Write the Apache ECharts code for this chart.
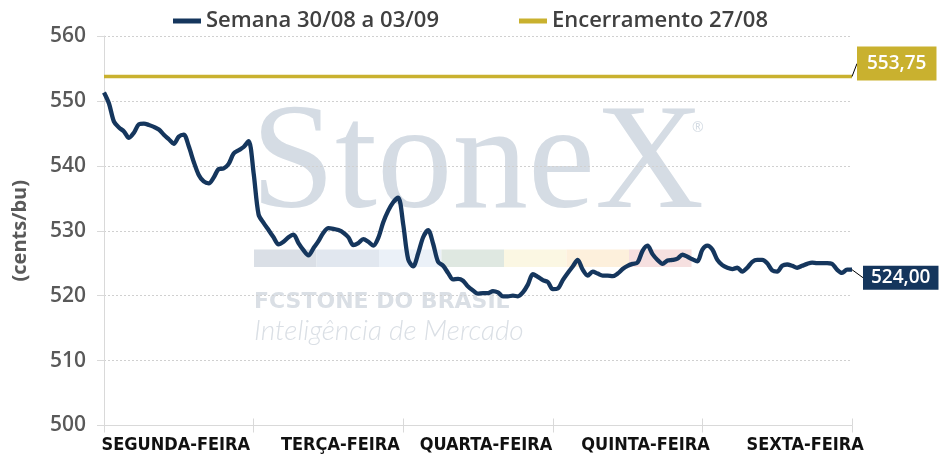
<!DOCTYPE html>
<html>
<head>
<meta charset="utf-8">
<script src="https://cdn.jsdelivr.net/npm/echarts@6/dist/echarts.min.js"></script>
<style>
  html, body { margin: 0; padding: 0; background: #fff; }
  #chart { width: 941px; height: 463px; }
</style>
</head>
<body>
<div id="chart"></div>
<script>
// dias da semana (eixo x)
const dias = ['SEGUNDA-FEIRA', 'TERÇA-FEIRA', 'QUARTA-FEIRA', 'QUINTA-FEIRA', 'SEXTA-FEIRA'];

// cotações intradiárias da semana 30/08 a 03/09 (cents/bu)
const precos = [
  551.3, 549.6, 546.8, 545.9, 545.3, 544.3, 545.1, 546.4, 546.5, 546.3,
  546.0, 545.6, 544.8, 544.1, 543.4, 544.5, 544.8, 543.0, 540.6, 538.6,
  537.6, 537.3, 538.2, 539.5, 539.6, 540.3, 541.9, 542.4, 542.9, 543.8,
  538.9, 532.5, 531.2, 530.1, 529.0, 527.9, 528.3, 529.0, 529.4, 528.1,
  527.0, 526.2, 527.3, 528.4, 529.7, 530.4, 530.3, 530.1, 529.7, 529.0,
  527.8, 528.1, 528.7, 528.3, 527.7, 528.9, 531.3, 533.1, 534.4, 535.1,
  531.0, 525.6, 524.5, 526.5, 529.0, 530.1, 528.0, 525.2, 524.6, 523.5,
  522.5, 522.6, 522.3, 521.4, 520.8, 520.3, 520.4, 520.4, 520.7, 520.5,
  519.9, 519.9, 520.0, 519.9, 520.5, 521.7, 523.3, 522.9, 522.4, 522.1,
  521.0, 521.1, 522.4, 523.5, 524.5, 525.5, 524.0, 523.1, 523.7, 523.4,
  523.1, 523.1, 523.0, 523.4, 524.1, 524.6, 524.9, 525.1, 526.9, 527.7,
  526.4, 525.5, 524.9, 525.4, 525.5, 525.7, 526.3, 526.0, 525.6, 525.3,
  527.1, 527.7, 527.1, 525.5, 524.7, 524.3, 524.1, 524.3, 523.7, 524.3,
  525.2, 525.5, 525.5, 525.0, 523.9, 523.7, 524.6, 524.8, 524.6, 524.3,
  524.6, 524.9, 525.1, 525.0, 525.0, 525.0, 524.9, 524.0, 523.5, 524.0,
  524.00
];

// fechamento de 27/08
const encerramento = 553.75;

// eixo y
const yMin = 500, yMax = 560, yStep = 10;

const serieSemana = 'Semana 30/08 a 03/09';
const serieEncerramento = 'Encerramento 27/08';

const horarios = precos.map((_, i) => String(i));
const navy = '#15365d';
const gold = '#c9b12f';
const cinza = '#595959';
const fonte = '"Open Sans", sans-serif';
const fonteDias = '"Liberation Sans Narrow", "DejaVu Sans Condensed", sans-serif';

// deslocamento horizontal (px) de cada rótulo de dia
const deslocDias = [-3, 12, 8, 18, 28];

const fmt = v => v.toFixed(2).replace('.', ',');
const ultimo = precos.length - 1;

const chart = echarts.init(document.getElementById('chart'));

// faixa colorida do logo (marca d'água)
const faixa = ['#dadfe6', '#e1e7ef', '#ebf1f8', '#dfe8e1', '#fbf7e3', '#fdf0dc', '#f6e0e0'];

const richDias = {};
deslocDias.forEach((s, i) => {
  richDias['d' + i] = {
    fontSize: 18, fontWeight: 'bold', color: '#111', fontFamily: fonteDias,
    padding: s >= 0 ? [0, 0, 0, 2 * s] : [0, -2 * s, 0, 0]
  };
});

const option = {
  animation: false,
  textStyle: { fontFamily: fonte },
  legend: {
    top: 5,
    left: 'center',
    itemWidth: 28,
    itemHeight: 5,
    itemGap: 80,
    icon: 'rect',
    textStyle: { fontSize: 22, fontWeight: 600, color: '#404040', fontFamily: fonte },
    data: [serieSemana, serieEncerramento]
  },
  graphic: [
    {
      type: 'text', z: -10, left: 251, top: 92,
      style: { text: 'StoneX', font: '151px "Liberation Serif"', fill: '#d5dce4' }
    },
    {
      type: 'text', z: -10, left: 692, top: 121,
      style: { text: '®', font: '14px "Open Sans"', fill: '#d5dce4' }
    },
    ...faixa.map((c, k) => ({
      type: 'rect', z: -10,
      shape: { x: 254 + 62.5 * k, y: 249.5, width: 62.5, height: 17.5 },
      style: { fill: c }
    })),
    {
      type: 'text', z: -10, left: 254, top: 291,
      style: { text: 'FCSTONE DO BRASIL', font: 'bold 22px "DejaVu Sans"', fill: '#dadfe5' }
    },
    {
      type: 'text', z: -10, left: 254, top: 317,
      style: { text: 'Inteligência de Mercado', font: 'italic 300 28px Lato', fill: '#dadfe5' }
    }
  ],
  grid: [
    { left: 104, right: 89, top: 36, bottom: 37.5 },
    { left: 104, right: 89, top: 36, bottom: 37.5 }
  ],
  xAxis: [
    {
      gridIndex: 0, type: 'category', data: dias, boundaryGap: true, position: 'bottom',
      axisLine: { lineStyle: { color: '#d9d9d9', width: 1 } },
      axisTick: { show: true, length: 7, lineStyle: { color: '#d9d9d9' } },
      axisLabel: {
        interval: 0, margin: 11, fontSize: 18, fontWeight: 'bold', color: '#111',
        fontFamily: fonteDias,
        formatter: (v, i) => '{d' + i + '|' + v + '}',
        rich: richDias
      },
      splitLine: { show: false }
    },
    {
      gridIndex: 0, type: 'category', data: horarios, boundaryGap: false, position: 'top',
      show: false
    },
    {
      gridIndex: 1, type: 'category', data: dias, boundaryGap: true, position: 'bottom',
      axisLine: { show: false },
      axisTick: { show: true, inside: true, length: 7, lineStyle: { color: '#d9d9d9' } },
      axisLabel: { show: false },
      splitLine: { show: false }
    }
  ],
  yAxis: [
    {
      gridIndex: 0, type: 'value', min: yMin, max: yMax, interval: yStep,
      name: '(cents/bu)', nameLocation: 'middle', nameGap: 74, nameRotate: 90,
      nameTextStyle: { fontSize: 20, fontWeight: 'bold', color: cinza, fontFamily: fonte },
      axisLine: { show: true, lineStyle: { color: '#d9d9d9' } },
      axisTick: { show: true, length: 7, lineStyle: { color: '#d9d9d9' } },
      axisLabel: { margin: 18, fontSize: 21, fontWeight: 600, color: cinza, fontFamily: fonte },
      splitLine: { lineStyle: { color: '#d0d0d0', type: [2, 2], width: 1 } }
    },
    { gridIndex: 1, type: 'value', min: yMin, max: yMax, show: false }
  ],
  series: [
    {
      name: serieEncerramento,
      type: 'line',
      xAxisIndex: 1, yAxisIndex: 0,
      data: [
        [horarios[0], encerramento],
        {
          value: [horarios[ultimo], encerramento],
          label: {
            show: true, position: 'right', distance: 5,
            formatter: p => fmt(p.value[1]),
            backgroundColor: gold, color: '#fff', fontSize: 19, fontWeight: 600,
            padding: [8, 10, 7, 10], fontFamily: fonte
          },
          labelLine: { show: true, lineStyle: { color: '#000', width: 1 } }
        }
      ],
      labelLayout: { dx: 0, dy: -13 },
      showSymbol: true, symbol: 'circle', symbolSize: 0,
      color: gold,
      lineStyle: { color: gold, width: 3.5 },
      z: 2
    },
    {
      name: serieSemana,
      type: 'line',
      xAxisIndex: 1, yAxisIndex: 0,
      smooth: 0.3,
      data: precos.map((v, i) => i === ultimo ? {
        value: v,
        label: {
          show: true, position: 'right', distance: 5,
          formatter: p => fmt(p.value),
          backgroundColor: navy, color: '#fff', fontSize: 19, fontWeight: 600,
          padding: [3, 8, 2, 8], fontFamily: fonte
        },
        labelLine: { show: true, lineStyle: { color: '#000', width: 1 } }
      } : v),
      labelLayout: { dx: 6, dy: 8 },
      showSymbol: true, symbol: 'circle', symbolSize: 0,
      color: navy,
      lineStyle: { color: navy, width: 4.3 },
      z: 3
    }
  ]
};

chart.setOption(option);
</script>
</body>
</html>
